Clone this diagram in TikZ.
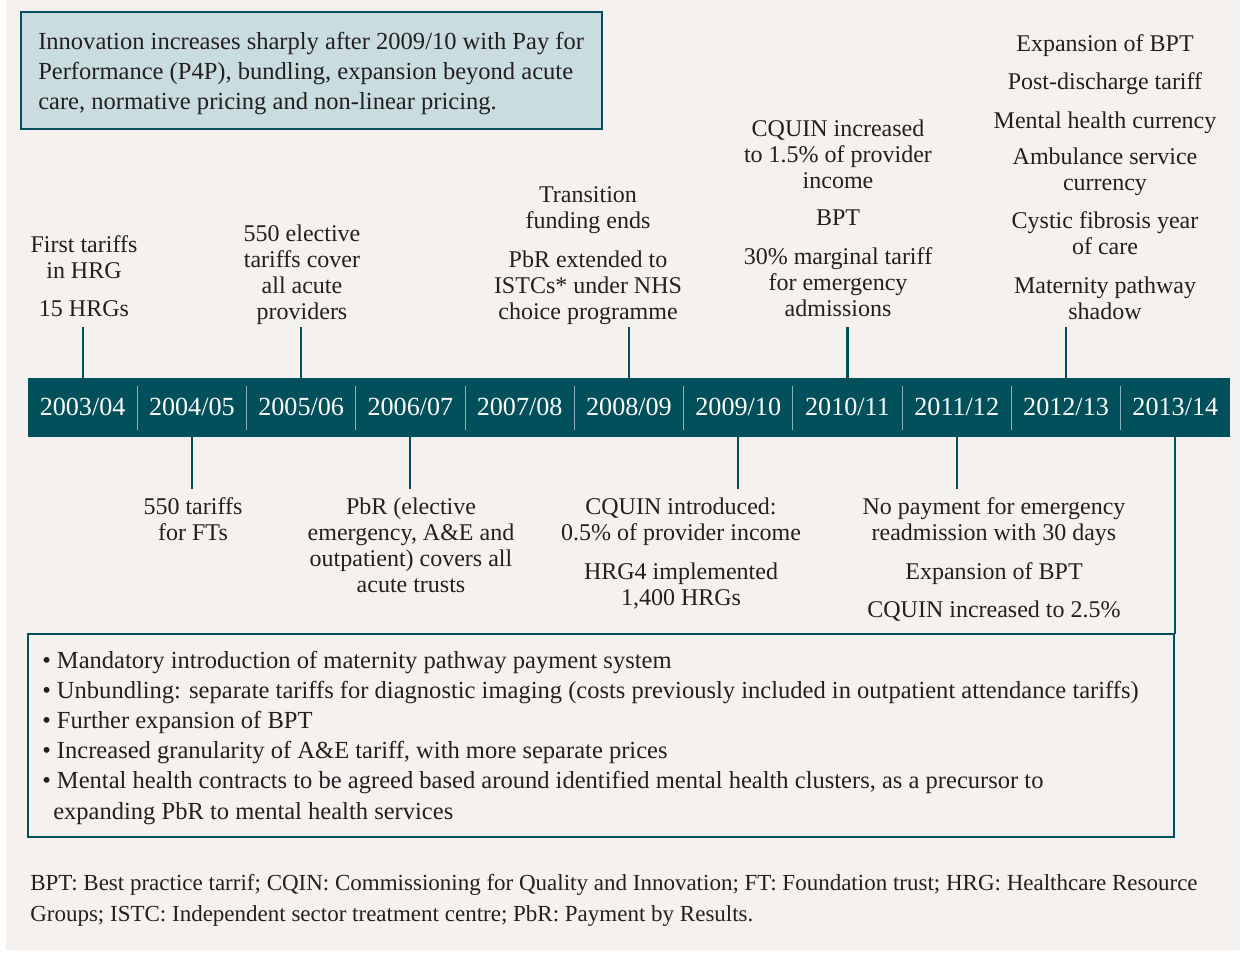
\documentclass[tikz,border=0pt]{standalone}
\usepackage{fontspec}
\setmainfont{Liberation Serif}
\definecolor{teal1}{HTML}{00505C}
\definecolor{lightbox}{HTML}{C9DCDF}
\definecolor{bgc}{HTML}{F4F1EE}
\definecolor{ink}{HTML}{231F20}
\definecolor{sep}{HTML}{8DB0B6}
\newcommand\labfont{\fontsize{18}{19.5}\selectfont}
\newcommand\yrfont{\fontsize{19.6}{21}\selectfont}
\newcommand\topfont{\fontsize{18.4}{22.5}\selectfont}
\newcommand\boxfont{\fontsize{18.4}{22.65}\selectfont}
\newcommand\notefont{\fontsize{17.25}{23.25}\selectfont}
\tikzset{
  conn/.style={draw=teal1, line width=1.6pt},
  lab/.style={font=\labfont, align=center, anchor=base, inner sep=0pt, text=ink},
  yr/.style={font=\yrfont, text=white, anchor=base, inner sep=0pt},
  sepline/.style={draw=sep, line width=0.8pt},
}
\begin{document}
\begin{tikzpicture}[x=0.75pt,y=-0.75pt]
\useasboundingbox (0,0) rectangle (1244,954);
\fill[white] (0,0) rectangle (1244,954);
\fill[bgc] (6,0) rectangle (1240,950);
% top box
\draw[draw=teal1, line width=2pt, fill=lightbox] (21,12) rectangle (602,129);
\node (toptext) [font=\topfont, text=ink, align=left, anchor=base west, inner sep=0pt] at (38,109)
  {Innovation increases sharply after 2009/10 with Pay for\\Performance (P4P), bundling, expansion beyond acute\\care, normative pricing and non-linear pricing.};
% bar
\fill[teal1] (28,378) coordinate (barNW) rectangle (1230,437) coordinate (barSE);
\foreach \i/\t in {0/{2003/04},1/{2004/05},2/{2005/06},3/{2006/07},4/{2007/08},5/{2008/09},6/{2009/10},7/{2010/11},8/{2011/12},9/{2012/13},10/{2013/14}}{
  \node (y\i) [yr] at ({82.6+109.27*\i},415) {\t};
}
\foreach \i in {1,...,10}{
  \draw[sepline] ({28+109.27*\i},386) -- ({28+109.27*\i},430);
}
% upper labels (anchored at baseline of last line)
\node (a1) [lab] at (84,278) {First tariffs\\in HRG};
\node (a2) [lab] at (84,316) {15 HRGs};
\node (b1) [lab] at (302,319) {550 elective\\tariffs cover\\all acute\\providers};
\node (c1) [lab] at (588,228) {Transition\\funding ends};
\node (c2) [lab] at (588,319) {PbR extended to\\ISTCs* under NHS\\choice programme};
\node (d1) [lab] at (838,188) {CQUIN increased\\to 1.5\% of provider\\income};
\node (d2) [lab] at (838,225) {BPT};
\node (d3) [lab] at (838,316) {30\% marginal tariff\\for emergency\\admissions};
\node (e1) [lab] at (1105,51) {Expansion of BPT};
\node (e2) [lab] at (1105,89) {Post-discharge tariff};
\node (e3) [lab] at (1105,128) {Mental health currency};
\node (e4) [lab] at (1105,190) {Ambulance service\\currency};
\node (e5) [lab] at (1105,254) {Cystic fibrosis year\\of care};
\node (e6) [lab] at (1105,319) {Maternity pathway\\shadow};
% lower labels
\node (f1) [lab] at (193,540) {550 tariffs\\for FTs};
\node (g1) [lab] at (411,592) {PbR (elective\\emergency, A\&E and\\outpatient) covers all\\acute trusts};
\node (h1) [lab] at (681,540) {CQUIN introduced:\\0.5\% of provider income};
\node (h2) [lab] at (681,605) {HRG4 implemented\\1,400 HRGs};
\node (i1) [lab] at (994,540) {No payment for emergency\\readmission with 30 days};
\node (i2) [lab] at (994,579) {Expansion of BPT};
\node (i3) [lab] at (994,617) {CQUIN increased to 2.5\%};
% connectors up
\foreach \i in {0,2,5,7,9}{
  \draw[conn] (y\i |- barNW) -- ++(0,-51);
}
% connectors down
\foreach \i in {1,3,6,8}{
  \draw[conn] (y\i |- barSE) -- ++(0,52);
}
% bottom box
\coordinate (boxNE) at (1174,634);
\draw[draw=teal1, line width=1.6pt] (28,634) rectangle (1174,837);
\draw[conn] (y10 |- barSE) -- (y10 |- boxNE);
\node (bul) [font=\boxfont, text=ink, align=left, anchor=base west, inner sep=0pt] at (42,819)
  {• Mandatory introduction of maternity pathway payment system\\
   • Unbundling: separate tariffs for diagnostic imaging (costs previously included in outpatient attendance tariffs)\\
   • Further expansion of BPT\\
   • Increased granularity of A\&E tariff, with more separate prices\\
   • Mental health contracts to be agreed based around identified mental health clusters, as a precursor to\\
   \hspace*{0.45em}expanding PbR to mental health services};
% footnote
\node (note) [font=\notefont, text=ink, align=left, anchor=base west, inner sep=0pt] at (30,921)
  {BPT: Best practice tarrif; CQIN: Commissioning for Quality and Innovation; FT: Foundation trust; HRG: Healthcare Resource\\
   Groups; ISTC: Independent sector treatment centre; PbR: Payment by Results.};
\end{tikzpicture}
\end{document}
